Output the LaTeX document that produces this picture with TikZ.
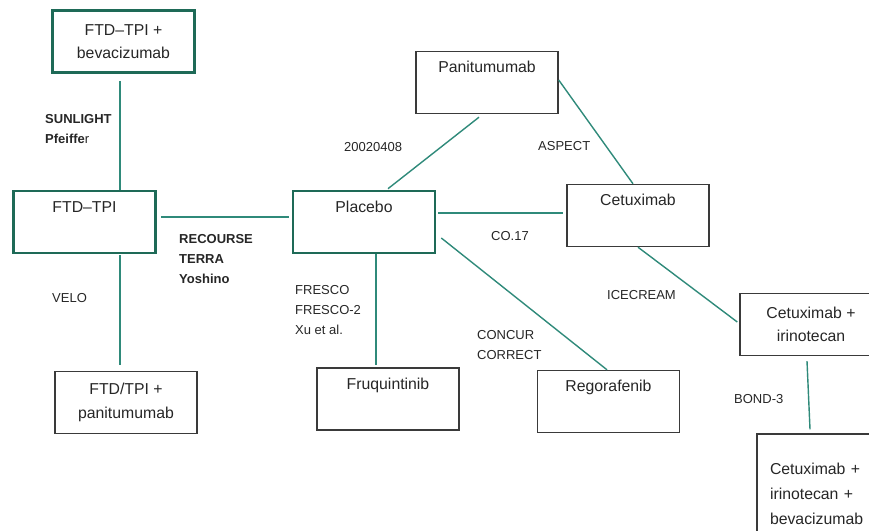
\documentclass[tikz,border=0pt]{standalone}
\usepackage{fontspec}
\setmainfont{Liberation Sans}
\usetikzlibrary{positioning}
\definecolor{boxgreen}{HTML}{1E6A57}
\definecolor{linkteal}{HTML}{2F8A7A}
\definecolor{boxgray}{HTML}{3A3A3A}

\begin{document}
\begin{tikzpicture}[x=1pt, y=-1pt, node distance=100pt, on grid]

    \tikzset{
        armBox/.style={draw=boxgray, line width=1.4pt, minimum width=142pt, minimum height=62pt, inner sep=0pt, align=center, text=black!85, font=\fontsize{15.8}{23.5}\selectfont},
        hubBox/.style={armBox, draw=boxgreen, line width=2.6pt},
        trialLabel/.style={anchor=west, inner sep=0pt, align=left, text=black!85, font=\fontsize{13}{20}\selectfont},
        boldLabel/.style={trialLabel, font=\bfseries\fontsize{13}{20}\selectfont},
        link/.style={draw=linkteal, line width=1.4pt}
    }

    \clip (0,0) rectangle (869,530);

    % Nodes (treatments)
    \node[hubBox] (ftd) at (84.5,222) {FTD--TPI\\\strut};
    \node[hubBox] (bev) [above right=180.5pt and 39pt of ftd] {FTD--TPI +\\bevacizumab};
    \node[armBox] (panipl) [below right=180.5pt and 41.5pt of ftd] {FTD/TPI +\\panitumumab};
    \node[hubBox] (placebo) [right=279.5pt of ftd] {Placebo\\\strut};
    \node[armBox] (pani) [above right=139.5pt and 123pt of placebo] {Panitumumab\\\strut};
    \node[armBox] (cet) [above right=6.5pt and 274pt of placebo] {Cetuximab\\\strut};
    \node[armBox] (fruq) [below right=177pt and 24pt of placebo] {Fruquintinib\\\strut};
    \node[armBox] (rego) [below right=179.5pt and 244.5pt of placebo] {Regorafenib\\\strut};
    \node[armBox] (cetiri) [below right=109pt and 173pt of cet] {Cetuximab +\\irinotecan};
    \node[armBox, minimum height=120pt, text width=116pt, inner xsep=13pt, align=left, font=\fontsize{15.8}{25}\selectfont] (combo) [below right=169.5pt and 17pt of cetiri] {Cetuximab +\\irinotecan +\\bevacizumab};

    % Comparisons
    \draw[link] ([xshift=-3.5pt,yshift=-7pt]bev.south) -- ([xshift=35.5pt]ftd.north);
    \draw[link] ([xshift=4pt,yshift=5pt]ftd.east) -- ([xshift=-3pt,yshift=5pt]placebo.west);
    \draw[link] ([xshift=35.5pt,yshift=-1pt]ftd.south) -- ([xshift=-6pt,yshift=6pt]panipl.north);
    \draw[link] ([xshift=24pt,yshift=1pt]placebo.north) -- ([xshift=-8pt,yshift=-3pt]pani.south);
    \draw[link] ([yshift=2.5pt]pani.east) -- ([xshift=-5pt]cet.north);
    \draw[link] ([xshift=2pt,yshift=9pt]placebo.east) -- ([xshift=-3pt,yshift=2.5pt]cet.west);
    \draw[link] ([xshift=12pt]placebo.south) -- ([xshift=-12pt,yshift=2pt]fruq.north);
    \draw[link] ([xshift=5pt,yshift=-16pt]placebo.east) -- ([xshift=-1.5pt]rego.north);
    \draw[link] (cet.south) -- ([xshift=-2pt,yshift=2.5pt]cetiri.west);
    \draw[link] ([xshift=-4pt,yshift=-5pt]cetiri.south) -- ([xshift=-18pt,yshift=4pt]combo.north);

    % Trial names
    \node[boldLabel] (sunlight) at (45,129) {SUNLIGHT\\Pfeiffe\textmd{r}};
    \node[boldLabel] (recourse) at (179,259) {RECOURSE\\TERRA\\Yoshino};
    \node[trialLabel] (velo) at (52,298) {VELO};
    \node[trialLabel] (s20020408) at (344,147) {20020408};
    \node[trialLabel] (aspect) at (538,146) {ASPECT};
    \node[trialLabel] (co17) at (491,236) {CO.17};
    \node[trialLabel] (icecream) at (607,295) {ICECREAM};
    \node[trialLabel] (fresco) at (295,310) {FRESCO\\FRESCO-2\\Xu et al.};
    \node[trialLabel] (concur) at (477,345.5) {CONCUR\\CORRECT};
    \node[trialLabel] (bond) at (734,399) {BOND-3};

\end{tikzpicture}
\end{document}
